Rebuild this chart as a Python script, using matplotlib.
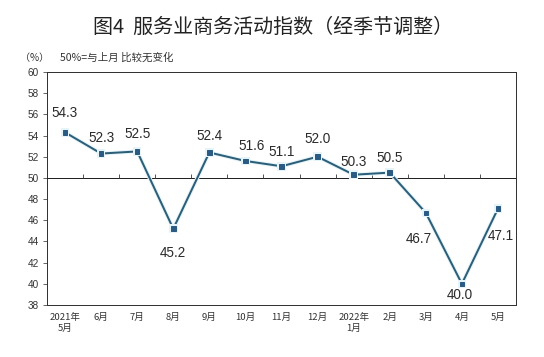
import matplotlib
matplotlib.use("Agg")
import matplotlib.pyplot as plt
import matplotlib.patheffects as pe
import numpy as np

plt.rcParams['font.family'] = ['Noto Sans CJK SC', 'DejaVu Sans']

# ---- data ----
categories = ["2021年\n5月", "6月", "7月", "8月", "9月", "10月", "11月", "12月",
              "2022年\n1月", "2月", "3月", "4月", "5月"]
values = [54.3, 52.3, 52.5, 45.2, 52.4, 51.6, 51.1, 52.0, 50.3, 50.5, 46.7, 40.0, 47.1]
yticks = list(range(38, 61, 2))
title = "图4  服务业商务活动指数（经季节调整）"
unit_label = "（%）"
note = "50%=与上月 比较无变化"

# label offsets (points) for each value label
label_offsets = [(0, 19), (0, 16), (0, 17), (0, -24), (0, 16), (6, 15), (0, 14),
                 (0, 18), (0, 13), (0, 15), (-7, -26), (-2, -11), (3, -27)]

W, H = 544, 357
fig = plt.figure(figsize=(W / 72, H / 72), dpi=72)
left, right, top, bottom = 47, 516, 72, 305
ax = fig.add_axes([left / W, 1 - bottom / H, (right - left) / W, (bottom - top) / H])

x = np.arange(len(values))
line_color = '#2D5E78'
ax.plot(x, values, color=line_color, lw=2.0, marker='s', ms=4.5,
        mfc='#2B5A82', mec='#2B5A82', zorder=5,
        path_effects=[pe.Stroke(linewidth=4.0, foreground='#e4f4f9'), pe.Normal()])

for xi, v, (dx, dy) in zip(x, values, label_offsets):
    ax.annotate(f"{v:.1f}", (xi, v), xytext=(dx, dy), textcoords='offset points',
                ha='center', va='center', fontsize=13.5, color='#2a2a2a',
                family=['Liberation Sans', 'DejaVu Sans'], zorder=6)

# 50 reference line with small upward ticks at category boundaries
ax.axhline(50, color='#222222', lw=1.0, zorder=3)
bounds = np.arange(len(values) - 1) + 0.5
ax.vlines(bounds, 50, 50.35, color='#444444', lw=0.9, zorder=3)

ax.set_xlim(-0.5, len(values) - 0.5)
ax.set_ylim(min(yticks), max(yticks))
ax.set_yticks(yticks)
ax.set_yticklabels([str(t) for t in yticks], family=['Liberation Sans', 'DejaVu Sans'],
                   fontsize=10, color='#333333')
ax.tick_params(axis='y', direction='out', length=4, width=0.8, pad=4, color='#444444')
ax.set_xticks(x)
ax.set_xticklabels(categories, fontsize=9.5, color='#333333', linespacing=1.25)
ax.tick_params(axis='x', length=0, pad=8)
for s in ax.spines.values():
    s.set_color('#333333')
    s.set_linewidth(1.0)

fig.text(273 / W, 1 - 27 / H, title, ha='center', va='center', fontsize=20, color='#222222')
fig.text(20 / W, 1 - 58 / H, unit_label, ha='left', va='center', fontsize=10, color='#333333')
fig.text(60 / W, 1 - 58 / H, note, ha='left', va='center', fontsize=10.5, color='#333333')

fig.savefig("out.png", dpi=72, facecolor='white')
